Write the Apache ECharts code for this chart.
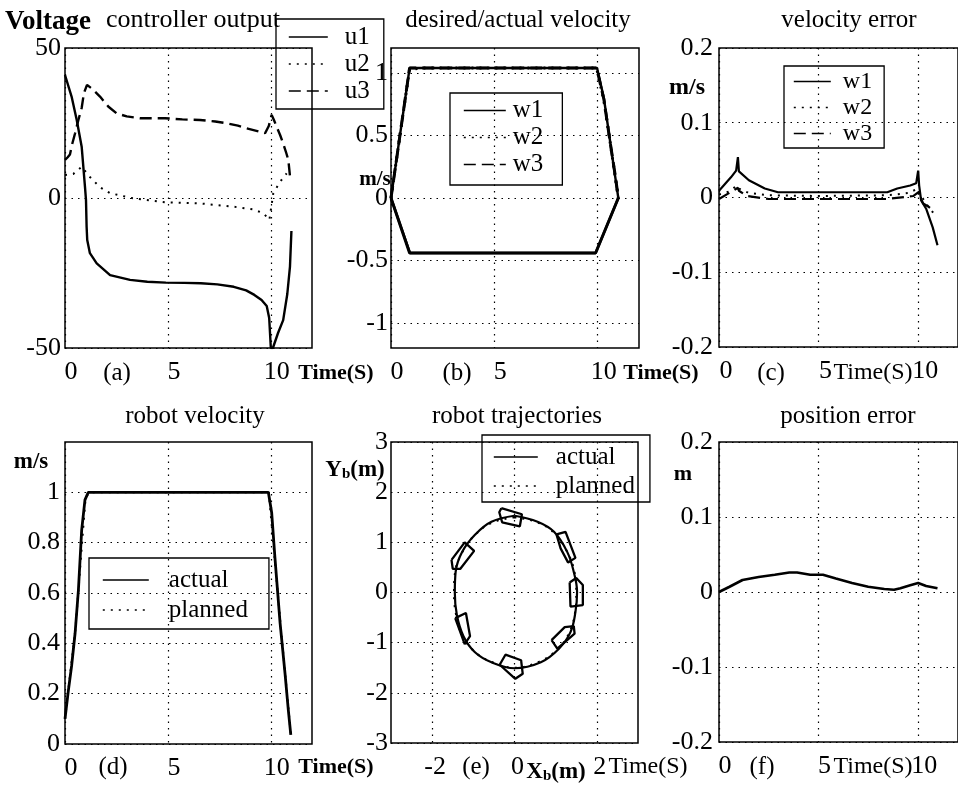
<!DOCTYPE html>
<html><head><meta charset="utf-8">
<script src="https://cdn.jsdelivr.net/npm/echarts@6/dist/echarts.min.js"></script>
<style>html,body{margin:0;padding:0;background:#fff}#c{width:958px;height:787px}</style>
</head><body><div id="c"></div>
<script>
// ---------- data ----------
// (a) controller output [time s, volt]
const u1 = [[0,41],[0.32,33.8],[0.57,26],[0.81,17.1],[0.97,3.8],[1.02,-0.7],[1.05,-9.6],[1.08,-14],[1.21,-18.4],[1.54,-21.8],[2.19,-25.7],[3.16,-27.3],[4.0,-27.9],[4.9,-28.2],[5.8,-28.3],[6.6,-28.4],[7.4,-28.8],[8.2,-29.6],[8.8,-30.8],[9.2,-32.3],[9.55,-34],[9.8,-36],[9.92,-40],[10.0,-50],[10.1,-50],[10.35,-45],[10.6,-40.7],[10.8,-32],[10.93,-22.9],[11.0,-11]];
const u2 = [[0,7.7],[0.4,8],[0.81,10.4],[1.21,7],[1.7,3.6],[2.19,1.6],[3.3,-0.1],[4.86,-1.4],[6.56,-1.8],[8.18,-2.9],[9.15,-3.8],[9.64,-5.1],[9.93,-7.3],[10.12,1.6],[10.45,5.4],[10.77,8.2]];
const u3 = [[0,12.7],[0.12,13.5],[0.24,14.5],[0.35,18],[0.49,21.6],[0.65,26],[0.81,30],[0.92,35],[1.07,37.7],[1.3,36.5],[1.7,33.8],[2.1,30.5],[2.51,28.2],[3.0,27.2],[3.64,26.6],[4.86,26.6],[5.7,26.2],[6.56,26],[7.3,25.5],[7.86,24.9],[8.4,24.1],[8.83,23.2],[9.3,22.4],[9.72,21.6],[9.9,24],[10.04,27.7],[10.15,26],[10.28,23.8],[10.45,21],[10.6,18.2],[10.75,15],[10.85,12.7],[10.95,6]];
// (b) desired/actual wheel velocity [time s, m/s]
const w1Vel = [[0,0],[0.45,-0.22],[0.9,-0.44],[5,-0.44],[9.9,-0.44],[10.45,-0.22],[11.0,0]];
const w2Vel = [[0,0],[0.45,0.52],[0.9,1.03],[1.5,1.04],[9.95,1.04],[10.3,0.78],[10.6,0.45],[10.84,0.18],[11.0,0]];
const w3Vel = [[0,0],[0.45,0.52],[0.9,1.04],[5,1.04],[9.95,1.04],[10.3,0.79],[10.6,0.45],[10.85,0.18],[11.0,0]];
const desiredHigh = [[0,0],[0.9,1.04],[9.97,1.04],[10.3,0.8],[10.84,0.18],[11.0,0]];
const desiredLow = [[0,0],[0.92,-0.44],[9.9,-0.44],[11.0,0]];
// (c) velocity error [time s, m/s]
const w1Err = [[0,0.009],[0.3,0.018],[0.6,0.027],[0.86,0.036],[0.95,0.054],[1.0,0.035],[1.5,0.023],[2.3,0.012],[2.96,0.007],[5,0.007],[7,0.007],[8.45,0.007],[8.95,0.012],[9.6,0.016],[9.9,0.019],[10.0,0.036],[10.05,0.016],[10.15,-0.004],[10.4,-0.015],[10.73,-0.04],[10.97,-0.064]];
const w2Err = [[0,0.004],[0.5,0.008],[0.9,0.016],[1.0,0.012],[1.5,0.006],[2.5,0.003],[5,0.002],[8.5,0.003],[9.5,0.006],[10.0,0.012],[10.2,0.0],[10.5,-0.012],[10.8,-0.022]];
const w3Err = [[0,-0.002],[0.7,0.009],[0.95,0.013],[1.0,0.009],[1.4,0.002],[2.5,-0.002],[5,-0.002],[8.45,-0.002],[9.75,0.002],[10.0,0.007],[10.25,-0.008],[10.5,-0.012],[10.73,-0.017]];
// (d) robot velocity [time s, m/s]
const velActual = [[0,0.1],[0.03,0.1],[0.16,0.21],[0.32,0.31],[0.49,0.44],[0.65,0.61],[0.81,0.85],[0.97,0.97],[1.13,1.0],[5,1.0],[9.88,1.0],[10.04,0.92],[10.2,0.74],[10.45,0.48],[10.69,0.28],[10.85,0.135],[10.97,0.036]];
const velPlanned = [[0,0.1],[0.5,0.45],[1.0,0.98],[1.2,1.0],[9.9,1.0],[10.5,0.45],[10.97,0.04]];
// (e) robot trajectories [Xb m, Yb m]
const trajActual = [[0,1.53],[0.56,1.41],[0.96,1.21],[1.28,0.81],[1.44,0.41],[1.52,0.01],[1.48,-0.39],[1.36,-0.79],[1.08,-1.12],[0.64,-1.39],[0,-1.51],[-0.56,-1.39],[-0.96,-1.19],[-1.24,-0.87],[-1.40,-0.45],[-1.45,0],[-1.43,0.41],[-1.27,0.81],[-0.96,1.15],[-0.56,1.41],[0,1.53]];
const trajPlanned = [[0,1.5],[0.55,1.4],[0.97,1.18],[1.3,0.78],[1.46,0.4],[1.5,0],[1.47,-0.4],[1.33,-0.8],[1.06,-1.12],[0.6,-1.38],[0,-1.5],[-0.57,-1.38],[-0.98,-1.17],[-1.27,-0.85],[-1.42,-0.44],[-1.47,0],[-1.44,0.42],[-1.27,0.8],[-0.97,1.14],[-0.55,1.39],[0,1.5]];
const robot1 = [[-0.32,1.68],[0.18,1.56],[0.13,1.32],[-0.30,1.40],[-0.37,1.60],[-0.32,1.68]];
const robot2 = [[1.02,1.16],[1.24,1.21],[1.48,0.69],[1.30,0.60],[1.12,0.88],[1.02,1.16]];
const robot3 = [[1.34,0.20],[1.50,0.29],[1.66,0.15],[1.66,-0.25],[1.36,-0.28],[1.34,0.20]];
const robot4 = [[0.90,-0.95],[1.22,-0.69],[1.44,-0.67],[1.46,-0.82],[1.04,-1.12],[0.90,-0.95]];
const robot5 = [[-0.36,-1.44],[-0.22,-1.24],[0.16,-1.35],[0.20,-1.62],[0.02,-1.72],[-0.36,-1.44]];
const robot6 = [[-1.44,-0.51],[-1.18,-0.41],[-1.08,-0.87],[-1.21,-1.03],[-1.44,-0.51]];
const robot7 = [[-1.53,0.65],[-1.21,1.0],[-0.98,0.83],[-1.32,0.47],[-1.50,0.47],[-1.53,0.65]];
// (f) position error [time s, m]
const posErr = [[0,0.0],[0.53,0.007],[1.18,0.016],[1.99,0.020],[2.8,0.023],[3.53,0.026],[3.92,0.026],[4.58,0.023],[5.22,0.023],[5.87,0.018],[6.68,0.012],[7.49,0.007],[8.3,0.004],[8.79,0.003],[9.11,0.005],[9.6,0.009],[10.0,0.012],[10.4,0.008],[10.97,0.005]];

// tick values
const timeTicks = [0,5,10];
const voltTicks = [-50,0,50];
const wheelTicks = [-1,-0.5,0,0.5,1];
const errTicks = [-0.2,-0.1,0,0.1,0.2];
const speedTicks = [0,0.2,0.4,0.6,0.8,1];
const xbTicks = [-2,0,2];
const ybTicks = [-3,-2,-1,0,1,2,3];

// ---------- styling helpers ----------
const FONT = '"Liberation Serif", "Times New Roman", serif';
const DOT = [1.5, 5];
const SOLID = 'solid', DOTTED = [2, 6], DASHED = [12, 6];

function grid(l, t, w, h) {
  return {left: l, top: t, width: w, height: h, show: true, borderColor: '#000', borderWidth: 1.5, backgroundColor: 'transparent'};
}
function xAx(gi, min, max, ticks, pad) {
  return {type: 'value', gridIndex: gi, min: min, max: max,
    axisLine: {show: false}, axisTick: {show: false, customValues: ticks},
    axisLabel: {customValues: ticks, fontFamily: FONT, fontSize: 26, color: '#000', margin: 11, padding: [0, 0, 0, pad]},
    splitLine: {show: true, lineStyle: {color: '#000', width: 1.2, type: DOT}}};
}
function yAx(gi, min, max, ticks, margin) {
  return {type: 'value', gridIndex: gi, min: min, max: max,
    axisLine: {show: false}, axisTick: {show: false, customValues: ticks},
    axisLabel: {customValues: ticks, fontFamily: FONT, fontSize: 26, color: '#000', margin: margin},
    splitLine: {show: true, lineStyle: {color: '#000', width: 1.2, type: DOT}}};
}
function ln(name, data, idx, type, width, smooth) {
  return {name: name, type: 'line', xAxisIndex: idx, yAxisIndex: idx, data: data, symbol: 'none',
    smooth: smooth || false, clip: true,
    lineStyle: {color: '#000', width: width, type: type}, itemStyle: {color: '#000', opacity: 0}};
}
function leg(data, left, top, itemWidth, itemGap, padding, textPad, fontSize, lineHeight) {
  return {data: data, orient: 'vertical', left: left, top: top, itemWidth: itemWidth, itemHeight: 2,
    itemGap: itemGap, padding: padding, borderColor: '#000', borderWidth: 1.3, borderRadius: 0,
    backgroundColor: 'transparent', selectedMode: false, itemStyle: {opacity: 0},
    lineStyle: {width: 1.6},
    textStyle: {fontFamily: FONT, fontSize: fontSize, color: '#000', lineHeight: lineHeight, padding: [0, 0, 0, textPad]}};
}
function txt(text, x, y, size, bold) {
  return {type: 'text', x: x, y: y, z: 100,
    style: {text: text, fontFamily: FONT, fontSize: size, fontWeight: bold ? 'bold' : 'normal', fill: '#000', align: 'center', verticalAlign: 'middle'}};
}
function subTxt(main, sub, tail, x, y) {
  return {type: 'text', x: x, y: y, z: 100,
    style: {text: '{m|' + main + '}{s|' + sub + '}{m|' + tail + '}', align: 'center', verticalAlign: 'middle',
      rich: {m: {fontFamily: FONT, fontSize: 23, fontWeight: 'bold', fill: '#000'},
             s: {fontFamily: FONT, fontSize: 15, fontWeight: 'bold', fill: '#000', padding: [9, 0, 0, 0]}}}};
}

const option = {
  animation: false,
  backgroundColor: '#fff',
  grid: [grid(65, 48, 247, 300), grid(391, 48, 248, 300), grid(719, 48, 247, 299),
         grid(65, 442, 247, 302), grid(391, 442, 247, 301), grid(719, 442, 247, 300)],
  xAxis: [xAx(0, 0, 12, timeTicks, 12), xAx(1, 0, 12, timeTicks, 12), xAx(2, 0, 12, timeTicks, 14),
          xAx(3, 0, 12, timeTicks, 12), xAx(4, -3, 3, xbTicks, 6), xAx(5, 0, 12, timeTicks, 12)],
  yAxis: [yAx(0, -50, 50, voltTicks, 4), yAx(1, -1.2, 1.2, wheelTicks, 3), yAx(2, -0.2, 0.2, errTicks, 6),
          yAx(3, 0, 1.2, speedTicks, 5), yAx(4, -3, 3, ybTicks, 3), yAx(5, -0.2, 0.2, errTicks, 6)],
  legend: [
    leg(['u1', 'u2', 'u3'], 276, 19, 39, 1, [5, 14, 5, 12], 12, 25, 26),
    leg(['w1', 'w2', 'w3'], 450, 93, 42, 0, [4, 19, 7, 13], 2, 25, 27),
    leg(['w1', 'w2', 'w3'], 784, 66, 37, 1, [3, 12, 2, 9], 7, 24, 25),
    leg(['actual', 'planned'], 89, 558, 46, 4, [9, 21, 6, 13], 15, 25, 26),
    leg(['actual', 'planned'], 482, 435, 44, 3, [9, 15, 3, 11], 13, 25, 26)
  ],
  graphic: [
    txt('Voltage', 48, 22, 27, true),
    txt('controller output', 193, 20, 26, false),
    txt('desired/actual velocity', 518, 20, 25, false),
    txt('velocity error', 849, 20, 25, false),
    txt('robot velocity', 195, 416, 25, false),
    txt('robot trajectories', 517, 416, 25, false),
    txt('position error', 848, 416, 25, false),
    txt('m/s', 375, 180, 21, true),
    txt('m/s', 687, 88, 24, true),
    txt('m/s', 31, 462, 23, true),
    subTxt('Y', 'b', '(m)', 355, 470),
    txt('m', 683, 474, 22, true),
    txt('(a)', 117, 373, 25, false),
    txt('Time(S)', 336, 373, 22, true),
    txt('(b)', 457, 373, 25, false),
    txt('Time(S)', 661, 373, 22, true),
    txt('(c)', 771, 373, 25, false),
    txt('Time(S)', 873, 373, 24, false),
    txt('(d)', 113, 767, 25, false),
    txt('Time(S)', 336, 767, 22, true),
    txt('(e)', 476, 767, 25, false),
    subTxt('X', 'b', '(m)', 556, 772),
    txt('Time(S)', 648, 767, 24, false),
    txt('(f)', 762, 767, 25, false),
    txt('Time(S)', 873, 767, 24, false)
  ],
  series: [
    ln('u1', u1, 0, SOLID, 2.4), ln('u2', u2, 0, DOTTED, 2), ln('u3', u3, 0, DASHED, 2.4),
    ln('w1', w1Vel, 1, SOLID, 3), ln('w2', w2Vel, 1, DOTTED, 3), ln('w3', w3Vel, 1, DASHED, 3),
    ln('desired high', desiredHigh, 1, SOLID, 2.4), ln('desired low', desiredLow, 1, SOLID, 2.4),
    ln('w1', w1Err, 2, SOLID, 2.2), ln('w2', w2Err, 2, DOTTED, 2), ln('w3', w3Err, 2, DASHED, 2.2),
    ln('planned', velPlanned, 3, DOTTED, 2), ln('actual', velActual, 3, SOLID, 2.8),
    ln('planned', trajPlanned, 4, DOTTED, 2, 0.4), ln('actual', trajActual, 4, SOLID, 2.2, 0.4),
    ln('robot1', robot1, 4, SOLID, 2.3), ln('robot2', robot2, 4, SOLID, 2.3), ln('robot3', robot3, 4, SOLID, 2.3),
    ln('robot4', robot4, 4, SOLID, 2.3), ln('robot5', robot5, 4, SOLID, 2.3), ln('robot6', robot6, 4, SOLID, 2.3),
    ln('robot7', robot7, 4, SOLID, 2.3),
    ln('error', posErr, 5, SOLID, 2.6)
  ]
};
const chart = echarts.init(document.getElementById('c'), null, {renderer: 'canvas', width: 958, height: 787});
chart.setOption(option);
</script></body></html>
